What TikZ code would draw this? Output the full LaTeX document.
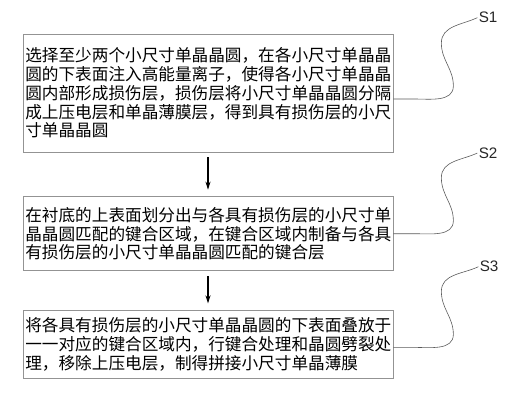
\documentclass[tikz,border=0pt]{standalone}
\usepackage{fontspec}
\newfontfamily\cjk{Noto Sans CJK SC}
\newfontfamily\tagfont{Liberation Sans}
\usepackage{xcolor}
\usepackage{tikz}
\usetikzlibrary{arrows.meta, positioning}

\begin{document}
\begin{tikzpicture}[
  node distance=1.32cm,
  stepbox/.style={rectangle, draw=gray!85, line width=0.6pt, fill=white,
                  text width=10.96cm, inner xsep=0.07cm, inner ysep=0pt, align=left,
                  font=\cjk\fontsize{14.2pt}{16pt}\selectfont, text=black},
  arrow/.style={-{Stealth[length=0.24cm, width=0.15cm]}, line width=1.2pt,
                shorten <=0.15cm, shorten >=0.2cm},
  leader/.style={draw=black!65, line width=0.5pt},
  steptag/.style={font=\tagfont\fontsize{13pt}{15pt}\selectfont, anchor=west, inner sep=1pt, text=black!85},
]
  \useasboundingbox (0,0) rectangle (15.42,-12.03);

  \node[stepbox, minimum height=3.54cm] (step1) at (6.24,-2.79)
    {选择至少两个小尺寸单晶晶圆，在各小尺寸单晶晶\\
     圆的下表面注入高能量离子，使得各小尺寸单晶晶\\
     圆内部形成损伤层，损伤层将小尺寸单晶晶圆分隔\\
     成上压电层和单晶薄膜层，得到具有损伤层的小尺\\
     寸单晶晶圆};
  \node[stepbox, minimum height=2.22cm, below=of step1] (step2)
    {在衬底的上表面划分出与各具有损伤层的小尺寸单\\
     晶晶圆匹配的键合区域，在键合区域内制备与各具\\
     有损伤层的小尺寸单晶晶圆匹配的键合层};
  \node[stepbox, minimum height=2.04cm, below=1.17cm of step2] (step3)
    {将各具有损伤层的小尺寸单晶晶圆的下表面叠放于\\
     一一对应的键合区域内，行键合处理和晶圆劈裂处\\
     理，移除上压电层，制得拼接小尺寸单晶薄膜};

  \draw[arrow] (step1) -- (step2);
  \draw[arrow] (step2) -- (step3);

  % step tags with S-shaped leaders
  \coordinate (out1) at ([yshift=-0.18cm]step1.east);
  \coordinate (out2) at (step2.east);
  \coordinate (out3) at ([yshift=-0.09cm]step3.east);

  \node[steptag] (tag1) at ([shift={(2.52,2.44)}]out1) {S1};
  \node[steptag] (tag2) at ([shift={(2.52,2.42)}]out2) {S2};
  \node[steptag] (tag3) at ([shift={(2.55,2.42)}]out3) {S3};

  \draw[leader] (out1) -- ++(0.63,0) to[out=0, in=-90] ++(1.17,0.39)
    to[out=90, in=-90] ++(-0.36,1.29) to[out=90, in=205] (tag1.west);
  \draw[leader] (out2) -- ++(0.63,0) to[out=0, in=-90] ++(1.17,0.39)
    to[out=90, in=-90] ++(-0.36,1.29) to[out=90, in=205] (tag2.west);
  \draw[leader] (out3) -- ++(0.63,0) to[out=0, in=-90] ++(1.17,0.39)
    to[out=90, in=-90] ++(-0.36,1.29) to[out=90, in=205] (tag3.west);
\end{tikzpicture}
\end{document}
